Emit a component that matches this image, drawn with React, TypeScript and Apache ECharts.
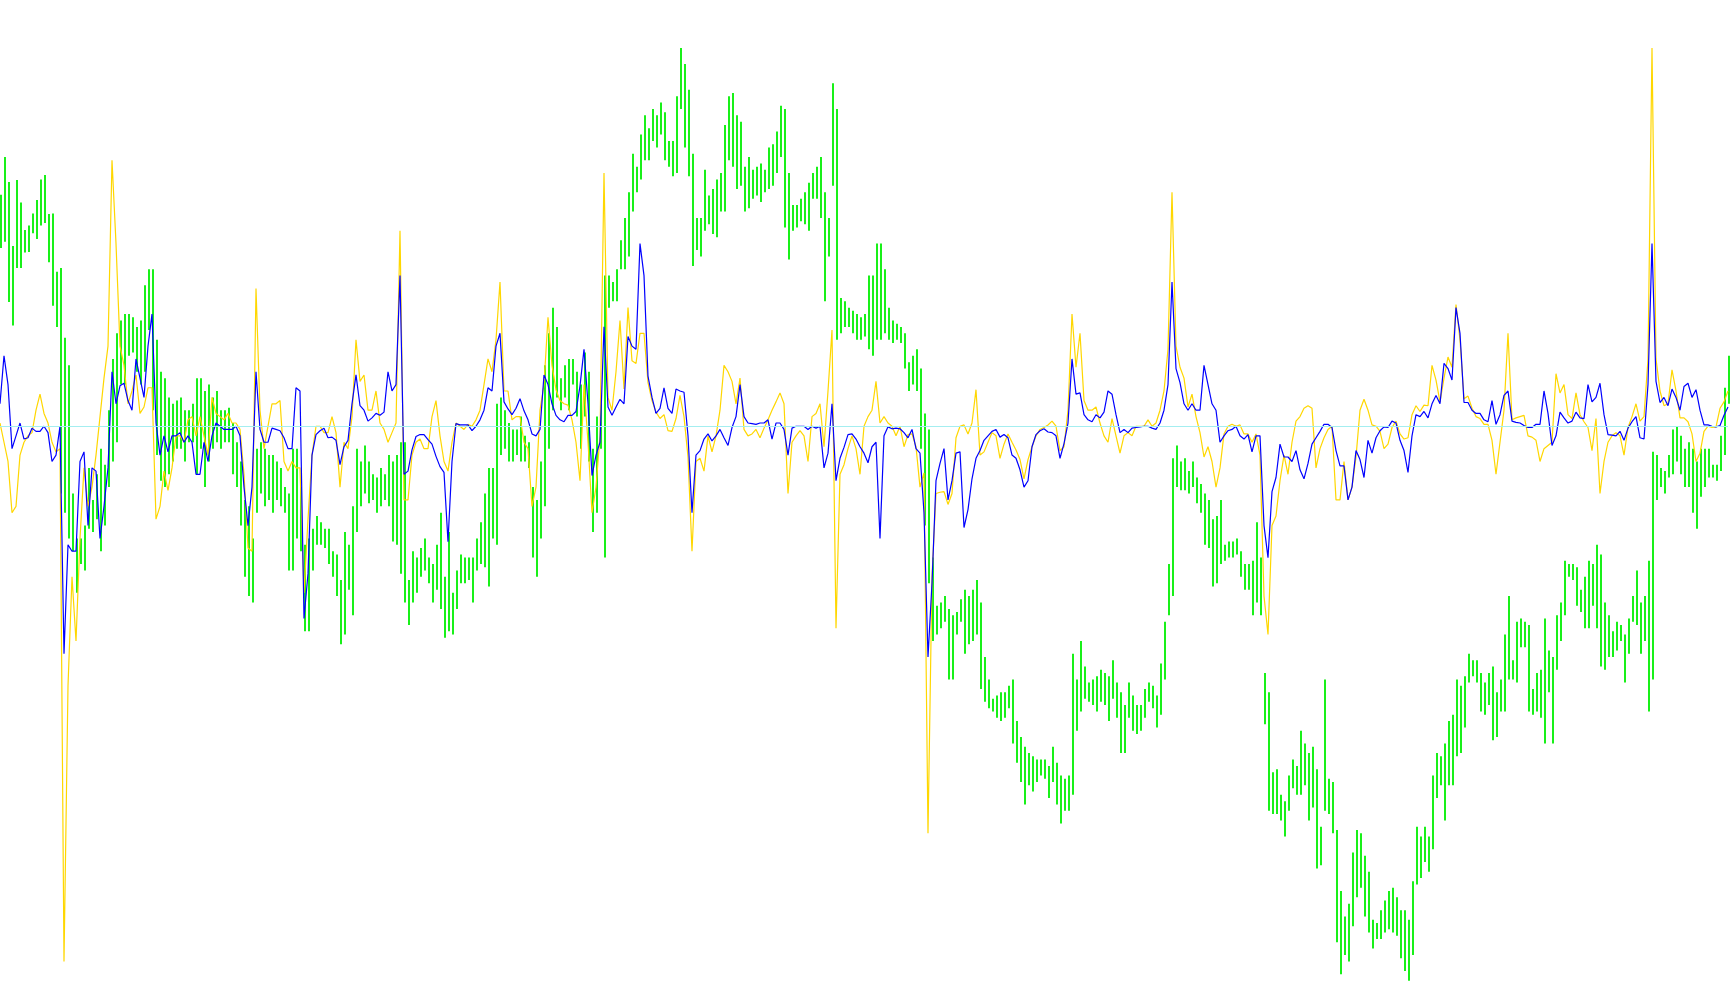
import React, { useEffect, useRef } from "react";
import * as echarts from "echarts";

// Green high/low bars (oscillator units, 0 = zero level)
const greenHigh = [
  361, 420, 381, 281, 384, 349, 306, 313, 332, 353, 385, 392, 331, 332, 241, 247, 138, 95, -105, -175,
  -175, -155, -65, -115, -75, -35, -60, 25, 105, 145, 165, 175, 175, 170, 155, 165, 220, 245, 245, 135,
  85, 75, 45, 35, 40, 45, 25, 25, 35, 75, 75, 55, 65, 45, 55, 25, 25, 29, 5, -25,
  -55, -115, -125, -175, -35, -25, -35, -45, -45, -55, -65, -95, -105, -35, -35,
  -95, -185, -175, -160, -140, -150, -160, -160, -195, -200, -240, -165, -185, -125, -35, -55, -30, -55, -75, -80,
  -65, -75, -45, -55, -45, -25, -25, -240, -195, -205, -190, -175, -205, -215, -185, -135, -235, -165, -260, -225,
  -200, -205, -205, -205, -175, -150, -105, -65, -65, 35, 45, 25, 5, -5, -5, 15, -15, -25, -95, -115,
  -55, 95, 145, 185, 155, 75, 95, 105, 105, 85, 65, 115, 85,
  -35, 15, 35, 235, 235, 225, 245, 290, 325, 365, 425, 405, 455, 485, 465, 495, 485, 505, 490, 445,
  445, 515, 590, 565, 525, 425, 325, 325, 400, 360, 370, 385, 395, 470, 515, 520, 485, 475, 405, 420,
  400, 405, 410, 400, 435, 440, 460, 500, 495, 395, 345, 345, 355, 365, 380, 395, 405, 420, 365, 325,
  535, 495, 200, 195, 185, 180, 175, 170, 175, 235, 235, 285,
  285, 245, 185, 165, 160, 155, 145, 100, 110, 120, 90, 20, -5, -205, -280, -275, -265, -285, -295, -290,
  -270, -255, -265, -255, -240, -275, -360, -395, -425, -420, -415, -415, -405, -395, -460, -485, -500, -510, -515, -520,
  -520, -520, -530, -500, -525, -545, -550, -545, -355, -395, -335, -375, -400, -395, -390, -380, -385, -390, -365, -400,
  -415, -435, -400, -420, -435, -435, -410, -400, -405, -420, -370, -305, -215,
  -50, -30, -55, -50, -70, -55, -80, -90, -105, -115, -145, -140, -115, -185, -180, -180, -175, -195, -215, -215,
  -210, -150, -205, -385, -415, -540, -535, -575, -585, -545, -520, -530, -475, -495, -510, -500, -535, -625, -395, -550,
  -555, -630, -725, -765, -745, -665, -630, -635, -670, -695, -770, -775, -755, -740, -725, -720, -735, -755, -755, -770,
  -710, -625, -640, -625, -640, -545, -510, -515, -495, -460, -450, -395,
  -405, -390, -355, -365, -365, -385, -400, -385, -375, -415, -395, -325, -265, -365, -305, -300, -305, -310, -410, -385,
  -380, -300, -350, -360, -295, -275, -210, -215, -215, -220, -255, -235, -210, -215, -185, -200, -275, -295, -320, -305,
  -310, -325, -300, -265, -225, -275, -265, -210, -40, -45, -65, -70, -45, -5, 0, -15, -35, -25, -35, -55,
  -35, -35, -35, -60, -60, -15, 60, 110,
];

const greenLow = [
  278, 288, 194, 157, 247, 247, 271, 272, 301, 292, 313, 317, 256, 188, 155, -105, -135, -175, -195, -260,
  -215, -225, -160, -165, -145, -195, -155, -95, -55, -25, 65, 65, 110, 115, 85, 65, 85, 150, 25, -45,
  -85, -95, -75, -55, -35, -35, -55, -25, -25, -75, -35, -95, -55, -35, -25, -35, -25, -25, -75, -95,
  -155, -235, -265, -275, -135, -105, -125, -115, -135, -115, -125, -135, -225, -225, -175,
  -195, -320, -320, -225, -185, -185, -190, -215, -235, -265, -340, -325, -255, -295, -165, -125, -105, -120, -115, -135,
  -125, -115, -125, -180, -185, -230, -275, -310, -275, -260, -235, -225, -245, -275, -255, -285, -330, -320, -325, -285,
  -245, -245, -240, -275, -225, -215, -220, -250, -175, -185, -45, -35, -55, -55, -45, -55, -55, -65, -205, -235,
  -175, -125, -35, 25, 45, 25, 45, 25, 65, 15, -35, 15, -55,
  -165, -135, -35, -205, 185, 195, 195, 245, 245, 265, 335, 365, 385, 415, 415, 445, 435, 455, 415, 405,
  390, 395, 495, 435, 390, 250, 275, 265, 305, 315, 300, 295, 335, 335, 415, 405, 370, 375, 335, 340,
  355, 360, 350, 365, 370, 375, 395, 420, 310, 260, 305, 310, 320, 315, 305, 355, 355, 325, 195, 265,
  375, 135, 145, 155, 155, 145, 135, 135, 140, 120, 110, 135,
  135, 145, 135, 130, 135, 130, 90, 55, 65, 55, -35, -155, -245, -335, -325, -315, -305, -395, -395, -325,
  -305, -355, -340, -335, -325, -410, -430, -440, -445, -455, -460, -455, -440, -495, -525, -555, -590, -560, -570, -555,
  -545, -550, -580, -555, -590, -620, -600, -600, -575, -475, -445, -425, -430, -435, -445, -430, -435, -460, -425, -455,
  -510, -510, -455, -475, -480, -475, -455, -430, -440, -470, -450, -395, -295,
  -265, -95, -100, -100, -105, -95, -120, -135, -185, -190, -250, -245, -215, -210, -205, -205, -200, -235, -255, -255,
  -295, -275, -295, -465, -600, -605, -605, -615, -640, -600, -565, -575, -575, -560, -615, -595, -690, -685, -600, -605,
  -635, -805, -855, -825, -835, -780, -735, -720, -765, -790, -815, -800, -800, -790, -785, -790, -795, -830, -850, -865,
  -825, -715, -705, -680, -695, -660, -580, -560, -615, -560, -560, -515,
  -510, -470, -400, -390, -400, -445, -450, -435, -490, -485, -445, -445, -395, -395, -400, -345, -345, -445, -450, -445,
  -455, -495, -415, -495, -380, -335, -295, -235, -240, -280, -290, -315, -315, -280, -315, -375, -380, -360, -360, -350,
  -335, -400, -355, -305, -310, -355, -335, -445, -395, -115, -95, -105, -80, -75, -55, -75, -95, -95, -135, -160,
  -110, -95, -80, -80, -85, -70, -45, 35,
];

// Yellow (fast) oscillator line
const yellowLine = [
  5, -25, -55, -135, -125, -45, -25, -15, -10, 25, 50, 20, 5, -25, -40, -35, -835, -405, -235, -335,
  -175, -65, -125, -95, -45, 15, 75, 125, 415, 285, 125, 95, 35, 55, 80, 20, 30, 60, 60, -145,
  -125, -70, -100, -65, -15, -15, -25, 10, 15, -15, 15, -15, -45, 45, 20, 15, 10, 20, 5, 5,
  -5, -75, -190, -195, 215, 25, -35, 0, 35, 35, 40, -55, -70, -55, -65,
  -65, -260, -145, -45, 0, 0, -10, -10, 15, -10, -95, -25, -35, 15, 135, 70, 80, 25, 25, 55,
  5, -5, -25, -10, 5, 305, -115, -115, -45, -25, -20, -35, -35, 15, 40, -15, -55, -70, -25, 5,
  0, -5, 3, 0, 10, 25, 65, 105, 85, 135, 225, 55, 55, 10, 15, 15, -25, -35, -125, -95,
  25, 65, 170, 95, 57, 40, 35, 33, 10, -25, -85, 65, -25,
  -135, -95, -15, 395, 45, 25, 85, 165, 58, 185, 102, 98, 145, 145, 68, 40, 22, 12, 18, -7,
  -8, 12, 48, 15, -48, -195, -55, -50, -70, -15, -40, -15, 25, 95, 85, 70, 35, 75, -5, -15,
  -12, -5, -18, -3, 10, 25, 38, 52, 35, -105, -25, -15, -7, -15, -55, 15, 20, 35, -32, 55,
  150, -315, -75, -60, -35, -15, -35, -75, 0, 15, 25, 70,
  5, 15, 5, 0, -15, 0, -32, -13, -12, -32, -95, -73, -635, -235, -105, -103, -102, -122, -105, -18,
  0, 2, -12, 5, 57, -45, -40, -25, -10, -15, -50, -28, -12, -25, -37, -52, -82, -52, -32, -15,
  -5, -2, 2, 8, 0, -38, -32, 25, 175, 92, 145, 40, 25, 25, 30, 5, -15, -25, 12, -15,
  -42, -15, -10, -15, 0, 0, 0, 10, 0, 5, 25, 55, 120,
  365, 125, 92, 75, 30, 50, 15, -10, -48, -32, -55, -95, -65, -12, 0, 3, 0, 2, -12, -12,
  -25, -12, -45, -265, -325, -155, -140, -85, -45, -75, -25, 8, 15, 28, 32, 28, -65, -35, -18, -5,
  0, -115, -115, -55, -115, -95, -48, 25, 42, 25, 2, 0, -8, -35, -28, -2, 8, -12, -20, -18,
  18, 32, 23, 33, 32, 95, 72, 38, 75, 108, 92, 190,
  135, 43, 47, 28, 15, 12, 3, 3, -22, -75, -25, 25, 145, 10, 13, 15, 17, -15, -17, -22,
  -55, -35, -30, -25, 82, 52, 65, 18, 12, 52, 18, 7, -2, -38, 12, -105, -55, -25, -15, -10,
  -15, -45, -2, 15, 35, 8, 15, 105, 590, 105, 55, 32, 35, 88, 55, 13, 13, 7, -12, -55,
  -42, -8, 0, -2, -1, 28, 38, 55,
];

// Blue (slow) oscillator line
const blueLine = [
  35, 110, 65, -35, -15, 5, -20, -18, -3, -8, -8, 0, -10, -55, -45, 0, -355, -185, -195, -195,
  -55, -40, -155, -65, -70, -175, -125, -65, 85, 35, 63, 67, 40, 25, 105, 75, 45, 125, 175, 5,
  -45, -15, -40, -15, -15, -10, -25, -15, -25, -75, -75, -25, -55, -15, 5, 0, -5, -5, -5, 0,
  -15, -95, -155, -95, 85, -5, -25, -25, -3, -5, -7, -18, -35, -35, 60,
  55, -300, -230, -45, -13, -7, -3, -18, -17, -22, -60, -32, -22, 35, 80, 32, 25, 8, 13, 20,
  17, 22, 85, 55, 65, 235, -75, -70, -37, -16, -13, -13, -21, -28, -47, -63, -72, -180, -55, 4,
  2, 2, 2, -7, 0, 10, 25, 60, 55, 125, 145, 38, 27, 18, 28, 43, 24, 10, -12, -15,
  -5, 80, 65, 35, 17, 10, 7, 17, 17, 23, 63, 120, 35,
  -77, -45, -25, 155, 30, 17, 30, 42, 35, 140, 125, 120, 285, 235, 78, 45, 20, 28, 60, 28,
  20, 58, 55, 53, -15, -135, -45, -38, -20, -12, -23, -15, -5, -18, -30, -2, 15, 65, 15, 5,
  4, 3, 5, 5, 10, -20, 5, 5, -5, -45, -3, 0, 0, 0, -5, 0, -3, 0, -65, -42,
  35, -85, -50, -33, -13, -12, -20, -32, -42, -57, -32, -25,
  -175, -15, -1, -4, -3, -4, -10, -18, -5, -35, -42, -135, -360, -245, -85, -58, -35, -115, -85, -42,
  -40, -158, -130, -82, -50, -38, -22, -15, -8, -5, -17, -13, -18, -45, -50, -68, -95, -85, -32, -13,
  -7, -4, -9, -10, -15, -50, -27, 5, 105, 50, 52, 18, 10, 7, 18, 13, 22, 55, 50, 18,
  -10, -5, -10, -3, -2, -1, 0, 0, -3, -5, 5, 25, 65,
  225, 90, 68, 35, 25, 35, 25, 25, 95, 65, 35, 25, -25, -15, -7, -5, 0, -15, -20, -13,
  -40, -15, -15, -155, -205, -102, -80, -28, -48, -48, -55, -38, -68, -82, -58, -28, -18, -8, 3, 3,
  -2, -38, -62, -62, -115, -95, -38, -52, -80, -22, -42, -18, -7, -1, -2, 8, 5, -22, -38, -72,
  -15, 18, 15, 23, 13, 35, 48, 35, 98, 90, 72, 185,
  145, 37, 37, 25, 20, 20, 10, 7, 40, 3, 18, 48, 55, 8, 6, 5, 1, -2, -2, 3,
  3, 55, 20, -30, -15, 22, 13, 5, 8, 22, 13, 12, 65, 38, 45, 67, 18, -13, -14, -15,
  -8, -22, -3, 7, 15, -18, -20, 65, 285, 70, 37, 45, 32, 58, 45, 25, 62, 67, 45, 57,
  25, 2, 2, 0, -1, 1, 17, 30,
];

const zeroLevel = 0;
const axisMin = -903;
const axisMax = 665;

const GREEN = "#19f019";
const YELLOW = "#ffd700";
const BLUE = "#0000ff";
const ZERO_COLOR = "#a4eef0";

export default function App() {
  const ref = useRef<HTMLDivElement>(null);

  useEffect(() => {
    document.body.style.margin = "0";
    const el = ref.current;
    if (!el) return;
    const chart = echarts.init(el, null, { renderer: "svg" });
    const n = Math.max(greenHigh.length, yellowLine.length, blueLine.length);
    const cats = Array.from({ length: n }, (_, i) => String(i));
    const barData = greenHigh.map((h, i) => [i, h, greenLow[i]]);

    chart.setOption({
      animation: false,
      backgroundColor: "#ffffff",
      grid: { left: 0, right: 2, top: 0, bottom: 0, containLabel: false },
      xAxis: {
        type: "category",
        data: cats,
        boundaryGap: false,
        show: false,
      },
      yAxis: {
        type: "value",
        min: axisMin,
        max: axisMax,
        show: false,
        splitLine: { show: false },
      },
      series: [
        {
          type: "line",
          data: [],
          z: 1,
          silent: true,
          markLine: {
            silent: true,
            symbol: "none",
            label: { show: false },
            lineStyle: { color: ZERO_COLOR, width: 1, type: "solid" },
            data: [{ yAxis: zeroLevel }],
          },
        },
        {
          type: "custom",
          z: 2,
          silent: true,
          data: barData,
          encode: { x: 0, y: [1, 2] },
          renderItem: (params: any, api: any) => {
            const idx = api.value(0);
            const top = api.coord([idx, api.value(1)]);
            const bot = api.coord([idx, api.value(2)]);
            const px = Math.round(top[0]) + 1;
            return {
              type: "line",
              shape: { x1: px, y1: top[1], x2: px, y2: bot[1] },
              style: { stroke: GREEN, lineWidth: 2 },
            };
          },
        },
        {
          type: "line",
          z: 3,
          silent: true,
          data: yellowLine,
          showSymbol: false,
          symbol: "none",
          lineStyle: { color: YELLOW, width: 1.2 },
        },
        {
          type: "line",
          z: 4,
          silent: true,
          data: blueLine,
          showSymbol: false,
          symbol: "none",
          lineStyle: { color: BLUE, width: 1.2 },
        },
      ],
    });

    return () => chart.dispose();
  }, []);

  return (
    <div
      ref={ref}
      style={{ position: "fixed", left: 0, top: 0, width: 1730, height: 1005, background: "#ffffff" }}
    />
  );
}
